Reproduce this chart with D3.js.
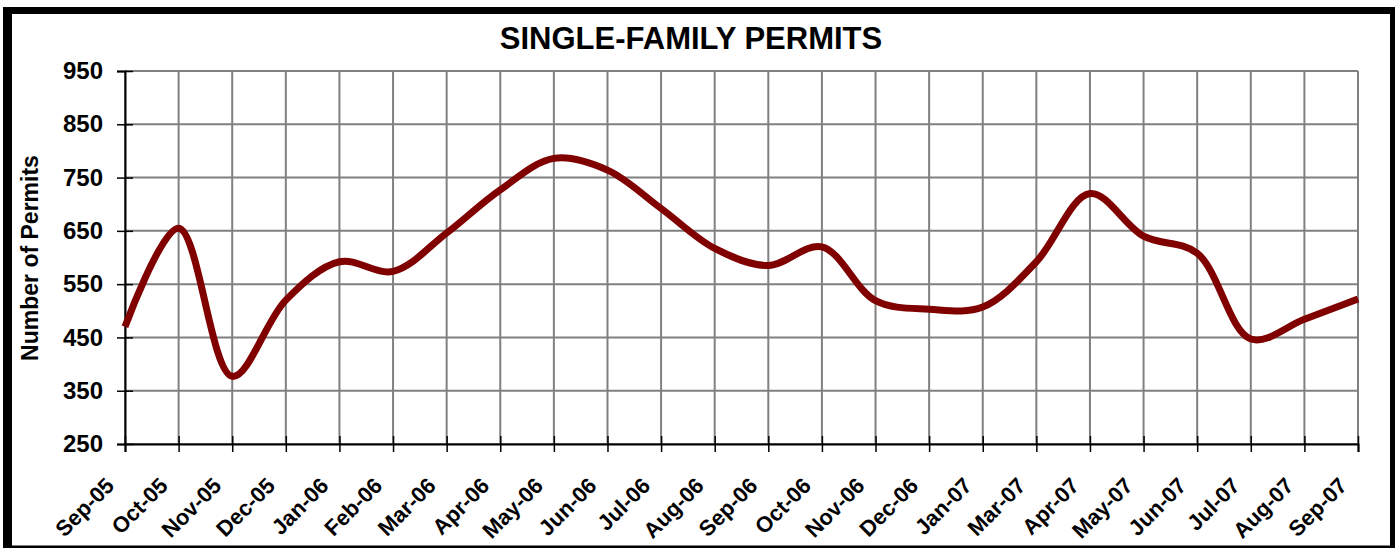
<!DOCTYPE html>
<html>
<head>
<meta charset="utf-8">
<script src="https://cdn.jsdelivr.net/npm/d3@7"></script>
<style>
  html, body { margin: 0; padding: 0; background: #fff; }
  svg { display: block; }
</style>
</head>
<body>
<div id="chart"></div>
<script>
// chart data
const months = ["Sep-05", "Oct-05", "Nov-05", "Dec-05", "Jan-06", "Feb-06", "Mar-06", "Apr-06",
  "May-06", "Jun-06", "Jul-06", "Aug-06", "Sep-06", "Oct-06", "Nov-06", "Dec-06", "Jan-07",
  "Mar-07", "Apr-07", "May-07", "Jun-07", "Jul-07", "Aug-07", "Sep-07"];
const permits = [470, 655, 377, 520, 592, 574, 646, 727,
  786, 764, 692, 617, 585, 620, 519, 503, 507,
  592, 720, 640, 608, 447, 484, 522];
const yTicks = [250, 350, 450, 550, 650, 750, 850, 950];

const W = 1398, H = 548;
const plotLeft = 125, plotRight = 1358, plotTop = 71, plotBottom = 444;
const FONT = "'Liberation Sans', Arial, sans-serif";

const svg = d3.select("#chart").append("svg")
  .attr("width", W)
  .attr("height", H)
  .attr("font-family", FONT);

svg.append("rect").attr("width", W).attr("height", H).attr("fill", "#fff");

// outer frame
svg.append("rect").attr("x", 3).attr("y", 7).attr("width", 9).attr("height", 541).attr("fill", "#000");
svg.append("rect").attr("x", 3).attr("y", 7).attr("width", 1392).attr("height", 7).attr("fill", "#000");
svg.append("rect").attr("x", 1390).attr("y", 7).attr("width", 5).attr("height", 541).attr("fill", "#000");
svg.append("rect").attr("x", 3).attr("y", 545.5).attr("width", 1392).attr("height", 3).attr("fill", "#000");

const x = d3.scalePoint().domain(months).range([plotLeft, plotRight]);
const y = d3.scaleLinear().domain([250, 950]).range([plotBottom, plotTop]);

// grid
const grid = svg.append("g").attr("stroke", "#808080").attr("stroke-width", 2);
grid.selectAll(".vg")
  .data(months)
  .enter().append("line")
  .attr("x1", d => x(d)).attr("x2", d => x(d))
  .attr("y1", plotTop).attr("y2", plotBottom);
grid.selectAll(".hg")
  .data(yTicks)
  .enter().append("line")
  .attr("x1", plotLeft).attr("x2", plotRight)
  .attr("y1", d => y(d)).attr("y2", d => y(d));

// y axis
const yAxis = svg.append("g")
  .attr("transform", `translate(${plotLeft},0)`)
  .call(d3.axisLeft(y).tickValues(yTicks).tickSizeOuter(0).tickSize(8).tickPadding(14))
  .attr("font-family", FONT)
  .attr("font-size", 24)
  .attr("font-weight", "bold");
yAxis.select(".domain").attr("stroke", "#000").attr("stroke-width", 2);
yAxis.selectAll(".tick line").attr("x1", 8).attr("stroke", "#000").attr("stroke-width", 1.5);
yAxis.selectAll(".tick text").attr("fill", "#000");

// x axis
const xAxis = svg.append("g")
  .attr("transform", `translate(0,${plotBottom})`)
  .call(d3.axisBottom(x).tickSizeOuter(0).tickSize(8))
  .attr("font-family", FONT)
  .attr("font-size", 22)
  .attr("font-weight", "bold");
xAxis.select(".domain").attr("stroke", "#000").attr("stroke-width", 2);
xAxis.selectAll(".tick line").attr("y1", -8).attr("stroke", "#000").attr("stroke-width", 1.5);
xAxis.selectAll(".tick text")
  .attr("y", null).attr("dy", null)
  .attr("transform", "translate(-10,43) rotate(-45)")
  .attr("text-anchor", "end")
  .attr("fill", "#000");

// series
const line = d3.line()
  .x((d, i) => x(months[i]))
  .y(d => y(d))
  .curve(d3.curveCatmullRom);

svg.append("path")
  .datum(permits)
  .attr("d", line)
  .attr("fill", "none")
  .attr("stroke", "#800000")
  .attr("stroke-width", 7);

// titles
svg.append("text")
  .attr("x", 691).attr("y", 49)
  .attr("text-anchor", "middle")
  .attr("font-size", 31)
  .attr("font-weight", "bold")
  .text("SINGLE-FAMILY PERMITS");

svg.append("text")
  .attr("transform", "translate(38,258) rotate(-90)")
  .attr("text-anchor", "middle")
  .attr("font-size", 23)
  .attr("font-weight", "bold")
  .text("Number of Permits");
</script>
</body>
</html>
